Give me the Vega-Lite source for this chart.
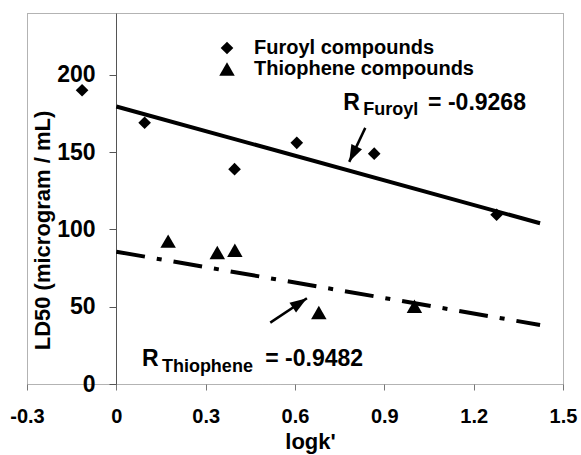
{
  "$schema": "https://vega.github.io/schema/vega-lite/v6.json",
  "width": 536,
  "height": 371,
  "autosize": {"type": "none"},
  "padding": {"left": 27, "top": 13, "right": 18, "bottom": 71},
  "background": "white",
  "config": {
    "view": {"stroke": "#666666", "strokeDash": [1, 1], "strokeWidth": 1},
    "font": "Liberation Sans",
    "axis": {"labelFont": "Liberation Sans", "titleFont": "Liberation Sans", "labelFontWeight": "bold", "titleFontWeight": "bold", "labelColor": "black", "titleColor": "black", "grid": false}
  },
  "datasets": {
    "points": [
      {"series": "Furoyl compounds", "logk": -0.115, "ld50": 190},
      {"series": "Furoyl compounds", "logk": 0.095, "ld50": 169},
      {"series": "Furoyl compounds", "logk": 0.397, "ld50": 139},
      {"series": "Furoyl compounds", "logk": 0.606, "ld50": 156},
      {"series": "Furoyl compounds", "logk": 0.866, "ld50": 149},
      {"series": "Furoyl compounds", "logk": 1.277, "ld50": 109.5},
      {"series": "Thiophene compounds", "logk": 0.174, "ld50": 92.4},
      {"series": "Thiophene compounds", "logk": 0.339, "ld50": 85.1},
      {"series": "Thiophene compounds", "logk": 0.398, "ld50": 86.5},
      {"series": "Thiophene compounds", "logk": 0.68, "ld50": 46.2},
      {"series": "Thiophene compounds", "logk": 1.001, "ld50": 50.3}
    ],
    "fits": [
      {"series": "Furoyl", "logk": 0, "ld50": 179.5},
      {"series": "Furoyl", "logk": 1.423, "ld50": 104},
      {"series": "Thiophene", "logk": 0, "ld50": 85.6},
      {"series": "Thiophene", "logk": 1.423, "ld50": 38.2}
    ],
    "labels": [
      {"part": "main", "label": "R", "logk": 0.762, "ld50": 177.3},
      {"part": "sub", "label": "Furoyl", "logk": 0.829, "ld50": 174.1},
      {"part": "main", "label": "= -0.9268", "logk": 1.047, "ld50": 177.3},
      {"part": "main", "label": "R", "logk": 0.086, "ld50": 11.7},
      {"part": "sub", "label": "Thiophene", "logk": 0.153, "ld50": 7.8},
      {"part": "main", "label": "= -0.9482", "logk": 0.5, "ld50": 11.7}
    ],
    "arrows": [
      {"series": "Furoyl", "logk": 0.836, "ld50": 165.7, "logk2": 0.782, "ld50b": 143.7},
      {"series": "Thiophene", "logk": 0.517, "ld50": 39.7, "logk2": 0.64, "ld50b": 55.5}
    ]
  },
  "layer": [
    {
      "data": {"name": "points"},
      "mark": {"type": "point", "filled": true, "color": "black", "opacity": 1},
      "encoding": {
        "x": {
          "field": "logk", "type": "quantitative",
          "scale": {"domain": [-0.3, 1.5], "nice": false, "zero": false},
          "axis": {
            "title": "logk'",
            "values": [-0.3, 0, 0.3, 0.6, 0.9, 1.2, 1.5],
            "labelExpr": "datum.value == 0 ? '0' : (datum.value < 0 ? '-' : '') + format(abs(datum.value), '.1f')",
            "domain": false,
            "ticks": true,
            "tickColor": "#777777",
            "tickSize": 6,
            "labelFontSize": 20,
            "labelBaseline": "alphabetic",
            "labelPadding": 32,
            "labelFlush": false,
            "labelOverlap": false,
            "titleFontSize": 22,
            "titleX": 283,
            "titleY": 64,
            "titleAlign": "center",
            "titleBaseline": "alphabetic"
          }
        },
        "y": {
          "field": "ld50", "type": "quantitative",
          "scale": {"domain": [0, 240], "nice": false},
          "axis": {
            "title": "LD50 (microgram / mL)",
            "values": [0, 50, 100, 150, 200],
            "offset": -89,
            "domainColor": "#555555",
            "domainWidth": 1,
            "tickColor": "#555555",
            "tickSize": 7,
            "labelFontSize": 23,
            "labelPadding": 14,
            "labelBaseline": "middle",
            "labelOverlap": false,
            "titleFontSize": 22,
            "titleAngle": 270,
            "titleX": -74,
            "titleY": 217,
            "titleAlign": "center",
            "titleBaseline": "middle"
          }
        },
        "shape": {
          "field": "series", "type": "nominal",
          "scale": {"domain": ["Furoyl compounds", "Thiophene compounds"], "range": ["diamond", "triangle-up"]},
          "legend": {
            "title": null,
            "orient": "none",
            "legendX": 190,
            "legendY": 25,
            "padding": 0,
            "labelFontSize": 20,
            "labelFont": "Liberation Sans",
            "labelFontWeight": "bold",
            "labelColor": "black",
            "labelLimit": 0,
            "symbolFillColor": "black",
            "symbolStrokeColor": "black",
            "symbolOpacity": 1,
            "labelOffset": 17,
            "rowPadding": 1
          }
        },
        "size": {
          "field": "series", "type": "ordinal",
          "scale": {"domain": ["Furoyl compounds", "Thiophene compounds"], "range": [160, 240]}
        }
      }
    },
    {
      "data": {"name": "fits"},
      "transform": [{"filter": "datum.series == 'Furoyl'"}],
      "mark": {"type": "line", "color": "black", "strokeWidth": 4},
      "encoding": {
        "x": {"field": "logk", "type": "quantitative"},
        "y": {"field": "ld50", "type": "quantitative"}
      }
    },
    {
      "data": {"name": "fits"},
      "transform": [{"filter": "datum.series == 'Thiophene'"}],
      "mark": {"type": "line", "color": "black", "strokeWidth": 4, "strokeDash": [29, 12, 5, 12], "strokeCap": "butt"},
      "encoding": {
        "x": {"field": "logk", "type": "quantitative"},
        "y": {"field": "ld50", "type": "quantitative"}
      }
    },
    {
      "data": {"name": "arrows"},
      "mark": {"type": "rule", "color": "black", "strokeWidth": 2.5},
      "encoding": {
        "x": {"field": "logk", "type": "quantitative"},
        "y": {"field": "ld50", "type": "quantitative"},
        "x2": {"field": "logk2"},
        "y2": {"field": "ld50b"}
      }
    },
    {
      "data": {"name": "arrows"},
      "transform": [{"filter": "datum.series == 'Furoyl'"}],
      "mark": {"type": "point", "shape": "M0,0L-0.7,2L0.7,2Z", "filled": true, "color": "black", "opacity": 1, "size": 289, "angle": 206.2},
      "encoding": {
        "x": {"field": "logk2", "type": "quantitative"},
        "y": {"field": "ld50b", "type": "quantitative"}
      }
    },
    {
      "data": {"name": "arrows"},
      "transform": [{"filter": "datum.series == 'Thiophene'"}],
      "mark": {"type": "point", "shape": "M0,0L-0.7,2L0.7,2Z", "filled": true, "color": "black", "opacity": 1, "size": 289, "angle": 56.4},
      "encoding": {
        "x": {"field": "logk2", "type": "quantitative"},
        "y": {"field": "ld50b", "type": "quantitative"}
      }
    },
    {
      "data": {"name": "labels"},
      "transform": [{"filter": "datum.part == 'main'"}],
      "mark": {"type": "text", "align": "left", "baseline": "alphabetic", "font": "Liberation Sans", "fontWeight": "bold", "fontSize": 23, "color": "black"},
      "encoding": {
        "x": {"field": "logk", "type": "quantitative"},
        "y": {"field": "ld50", "type": "quantitative"},
        "text": {"field": "label"}
      }
    },
    {
      "data": {"name": "labels"},
      "transform": [{"filter": "datum.part == 'sub'"}],
      "mark": {"type": "text", "align": "left", "baseline": "alphabetic", "font": "Liberation Sans", "fontWeight": "bold", "fontSize": 18, "color": "black"},
      "encoding": {
        "x": {"field": "logk", "type": "quantitative"},
        "y": {"field": "ld50", "type": "quantitative"},
        "text": {"field": "label"}
      }
    }
  ]
}
